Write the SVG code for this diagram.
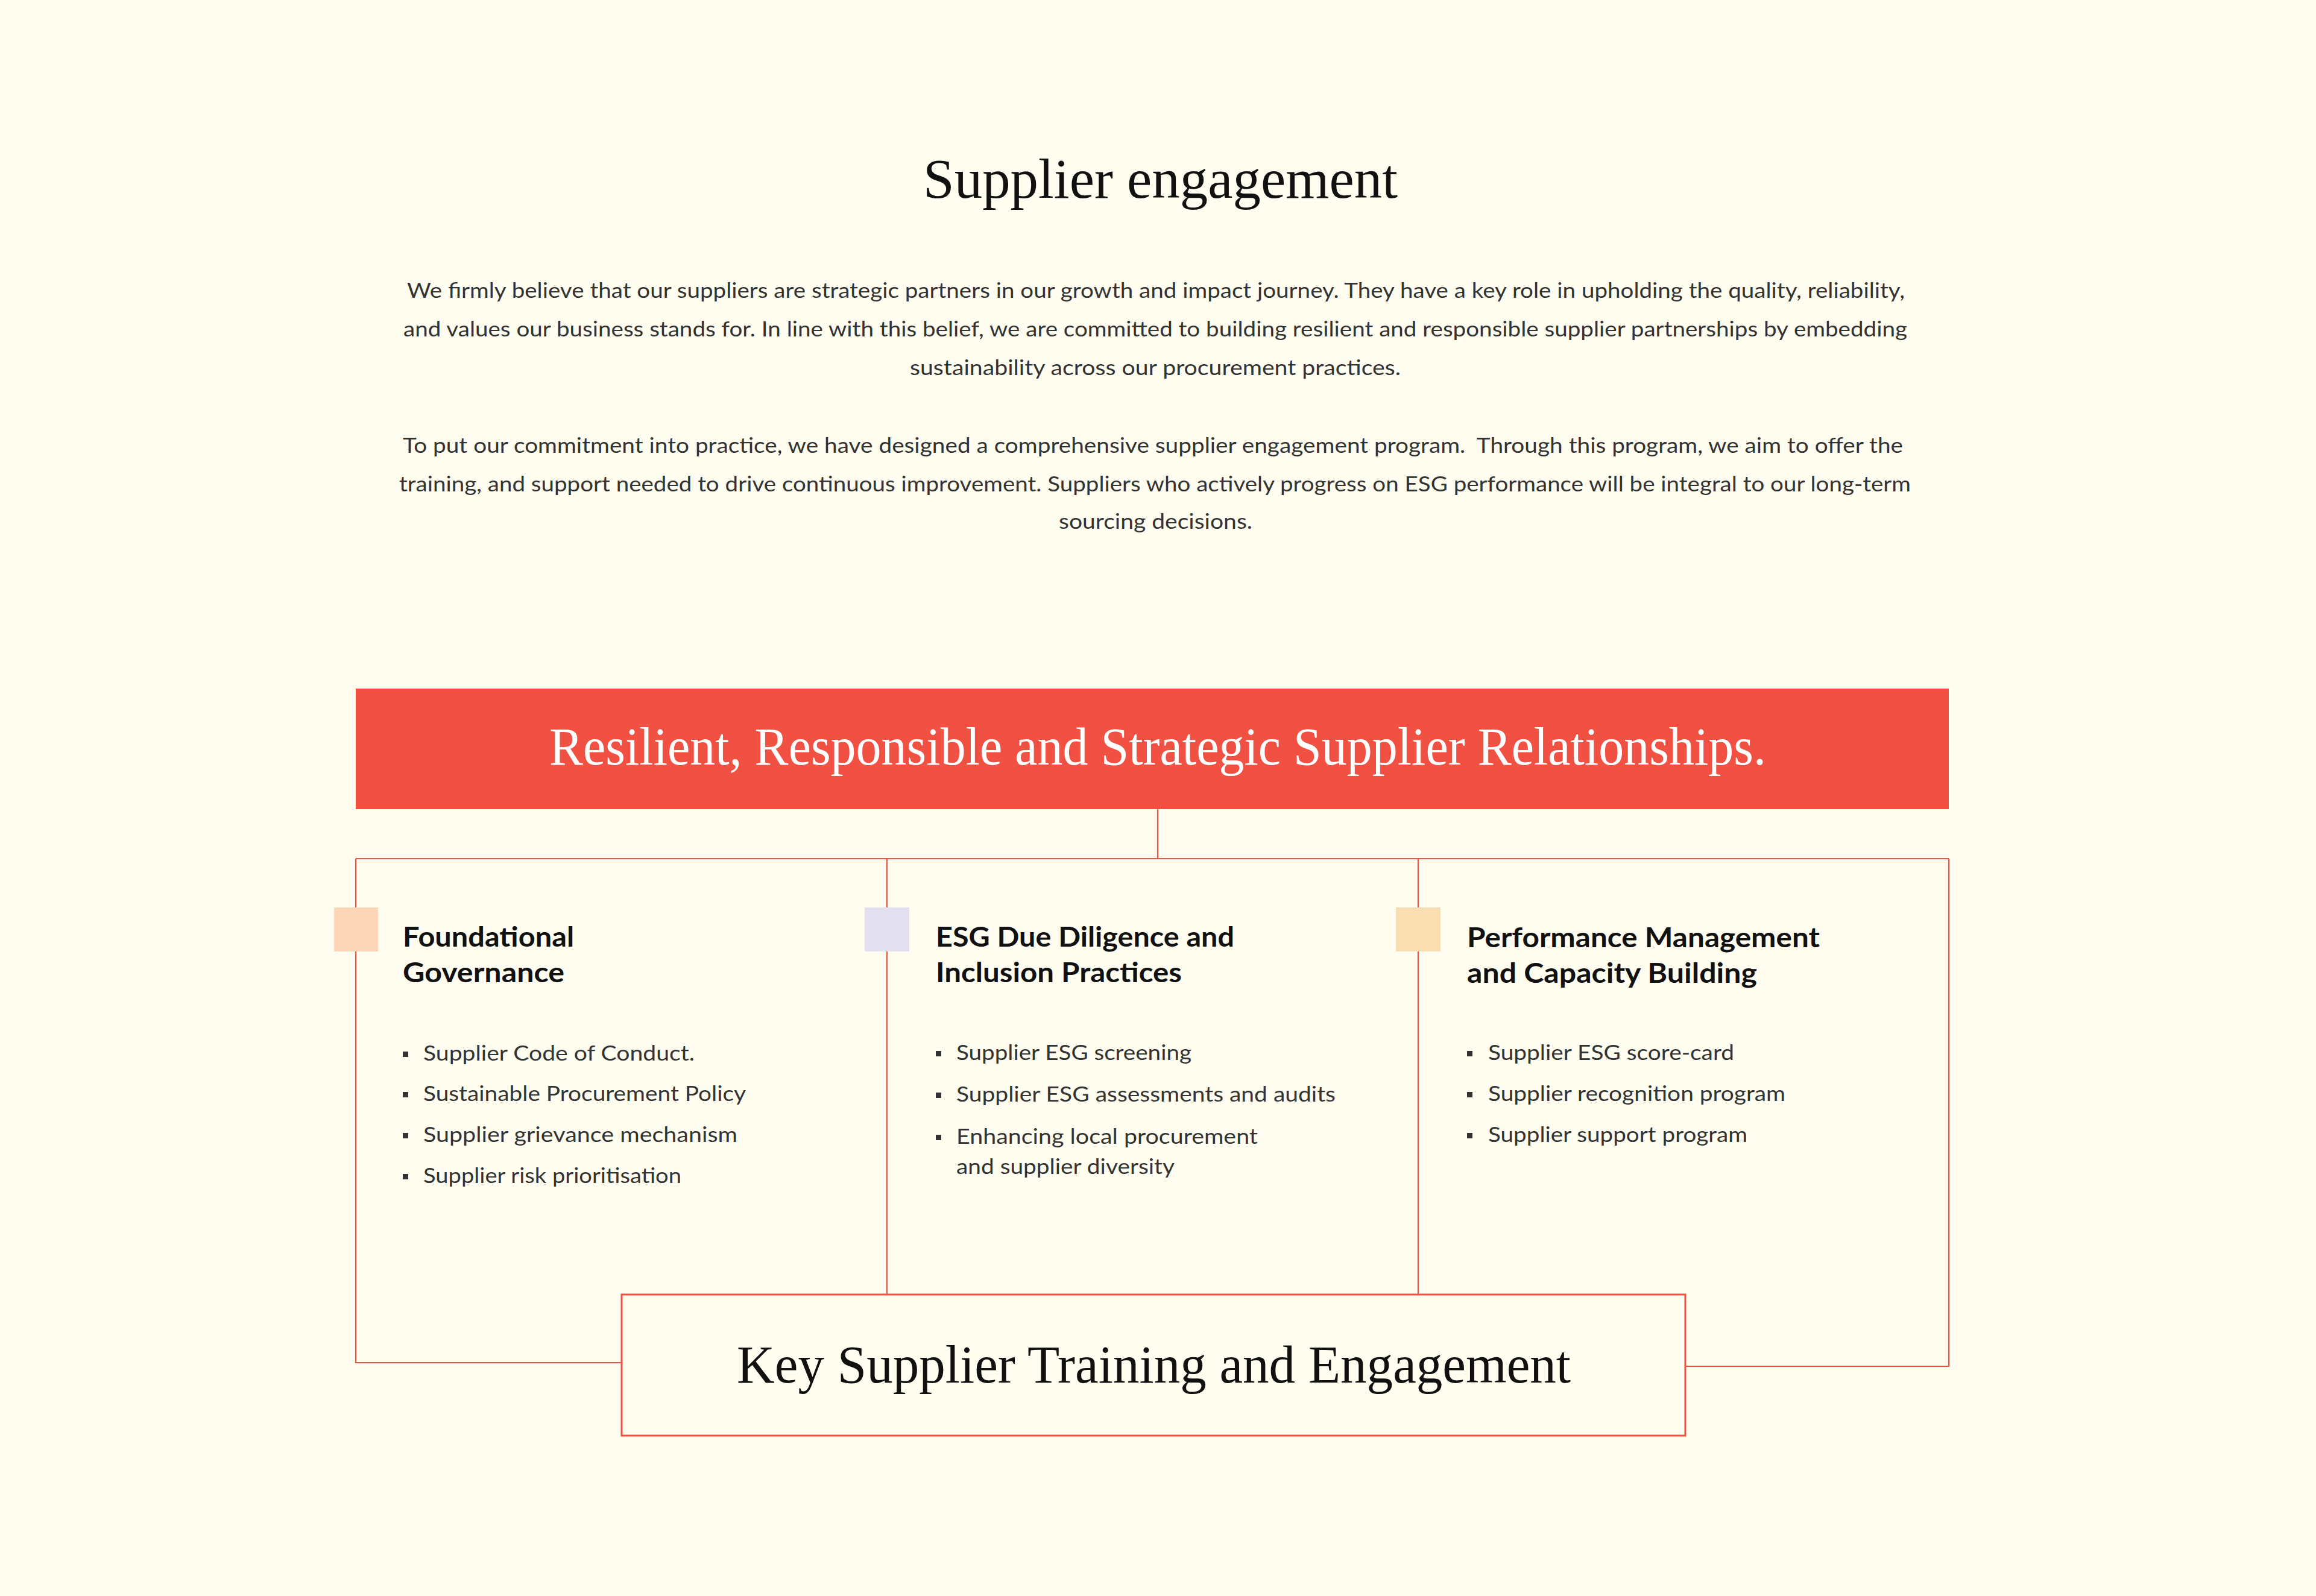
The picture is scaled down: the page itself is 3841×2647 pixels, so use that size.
<svg xmlns="http://www.w3.org/2000/svg" width="3841" height="2647" viewBox="0 0 3841 2647">
<style>
.bg{fill:#FEFDEF}
.serif{font-family:"Liberation Serif","Times New Roman",serif}
.sans{font-family:Lato,"Noto Sans","Liberation Sans",sans-serif}
.title{font-size:94px;fill:#111111}
.para{font-size:34px;fill:#333333}
.banner-text{font-size:88px;fill:#FFFFFF}
.head{font-size:45px;font-weight:700;fill:#111111}
.item{font-size:35px;fill:#333333}
.bul{fill:#333333}
.conn{stroke:#F05142;stroke-width:2.2;fill:none}
.boxline{stroke:#F05142;stroke-width:3;fill:#FEFDEF}
.key{font-size:88px;fill:#111111}
</style>
<rect class="bg" x="0" y="0" width="3841" height="2647"/>

<g id="title">
<text class="serif title" x="1531" y="328" textLength="787" lengthAdjust="spacingAndGlyphs">Supplier engagement</text>
</g>

<g id="intro" class="sans para">
<text x="675" y="494" textLength="2484" lengthAdjust="spacingAndGlyphs">We firmly believe that our suppliers are strategic partners in our growth and impact journey. They have a key role in upholding the quality, reliability,</text>
<text x="669" y="558" textLength="2494" lengthAdjust="spacingAndGlyphs">and values our business stands for. In line with this belief, we are committed to building resilient and responsible supplier partnerships by embedding</text>
<text x="1509" y="622" textLength="814" lengthAdjust="spacingAndGlyphs">sustainability across our procurement practices.</text>
<text x="668" y="751" textLength="2488" lengthAdjust="spacingAndGlyphs" xml:space="preserve">To put our commitment into practice, we have designed a comprehensive supplier engagement program.  Through this program, we aim to offer the</text>
<text x="662" y="815" textLength="2507" lengthAdjust="spacingAndGlyphs">training, and support needed to drive continuous improvement. Suppliers who actively progress on ESG performance will be integral to our long-term</text>
<text x="1756" y="877" textLength="321" lengthAdjust="spacingAndGlyphs">sourcing decisions.</text>
</g>

<g id="connectors">
<line class="conn" x1="1920" y1="1342" x2="1920" y2="1424"/>
<line class="conn" x1="590" y1="1424" x2="3232" y2="1424"/>
<polyline class="conn" points="590,1424 590,2260 1031,2260"/>
<line class="conn" x1="1471" y1="1424" x2="1471" y2="2147"/>
<line class="conn" x1="2352" y1="1424" x2="2352" y2="2147"/>
<polyline class="conn" points="3232,1424 3232,2266 2795,2266"/>
</g>

<g id="banner">
<rect x="590" y="1142" width="2642" height="200" fill="#F05142"/>
<text class="serif banner-text" x="911" y="1268" textLength="2018" lengthAdjust="spacingAndGlyphs">Resilient, Responsible and Strategic Supplier Relationships.</text>
</g>

<g id="col-foundational">
<rect x="554" y="1505" width="73" height="73" fill="#FDD5B8"/>
<text class="sans head" x="668" y="1570" textLength="284" lengthAdjust="spacingAndGlyphs">Foundational</text>
<text class="sans head" x="668" y="1629" textLength="268" lengthAdjust="spacingAndGlyphs">Governance</text>
<rect class="bul" x="668" y="1744" width="9" height="9"/>
<text class="sans item" x="702" y="1759" textLength="450" lengthAdjust="spacingAndGlyphs">Supplier Code of Conduct.</text>
<rect class="bul" x="668" y="1811" width="9" height="9"/>
<text class="sans item" x="702" y="1826" textLength="535" lengthAdjust="spacingAndGlyphs">Sustainable Procurement Policy</text>
<rect class="bul" x="668" y="1879" width="9" height="9"/>
<text class="sans item" x="702" y="1894" textLength="521" lengthAdjust="spacingAndGlyphs">Supplier grievance mechanism</text>
<rect class="bul" x="668" y="1947" width="9" height="9"/>
<text class="sans item" x="702" y="1962" textLength="428" lengthAdjust="spacingAndGlyphs">Supplier risk prioritisation</text>
</g>

<g id="col-esg">
<rect x="1434" y="1505" width="74" height="73" fill="#E3E0F0"/>
<text class="sans head" x="1552" y="1570" textLength="495" lengthAdjust="spacingAndGlyphs">ESG Due Diligence and</text>
<text class="sans head" x="1552" y="1629" textLength="408" lengthAdjust="spacingAndGlyphs">Inclusion Practices</text>
<rect class="bul" x="1552" y="1743" width="9" height="9"/>
<text class="sans item" x="1586" y="1758" textLength="390" lengthAdjust="spacingAndGlyphs">Supplier ESG screening</text>
<rect class="bul" x="1552" y="1812" width="9" height="9"/>
<text class="sans item" x="1586" y="1827" textLength="629" lengthAdjust="spacingAndGlyphs">Supplier ESG assessments and audits</text>
<rect class="bul" x="1552" y="1882" width="9" height="9"/>
<text class="sans item" x="1586" y="1897" textLength="500" lengthAdjust="spacingAndGlyphs">Enhancing local procurement</text>
<text class="sans item" x="1586" y="1947" textLength="362" lengthAdjust="spacingAndGlyphs">and supplier diversity</text>
</g>

<g id="col-performance">
<rect x="2315" y="1505" width="74" height="73" fill="#F8DEB0"/>
<text class="sans head" x="2433" y="1571" textLength="585" lengthAdjust="spacingAndGlyphs">Performance Management</text>
<text class="sans head" x="2433" y="1630" textLength="481" lengthAdjust="spacingAndGlyphs">and Capacity Building</text>
<rect class="bul" x="2433" y="1743" width="9" height="9"/>
<text class="sans item" x="2468" y="1758" textLength="408" lengthAdjust="spacingAndGlyphs">Supplier ESG score-card</text>
<rect class="bul" x="2433" y="1811" width="9" height="9"/>
<text class="sans item" x="2468" y="1826" textLength="493" lengthAdjust="spacingAndGlyphs">Supplier recognition program</text>
<rect class="bul" x="2433" y="1879" width="9" height="9"/>
<text class="sans item" x="2468" y="1894" textLength="430" lengthAdjust="spacingAndGlyphs">Supplier support program</text>
</g>

<g id="key-supplier">
<rect class="boxline" x="1031" y="2147" width="1764" height="234"/>
<text class="serif key" x="1222" y="2293" textLength="1383" lengthAdjust="spacingAndGlyphs">Key Supplier Training and Engagement</text>
</g>
</svg>
